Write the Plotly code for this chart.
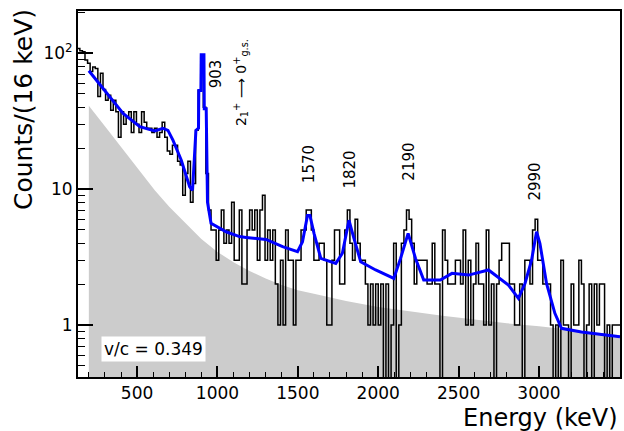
import numpy as np
import plotly.graph_objects as go

# ---------------- data ----------------
bin_width = 16
first_edge = 128
counts = [
    108, 104, 102, 89, 84, 73, 79, 77, 48, 71,
    54, 45, 49, 38, 45, 37, 24, 37, 30, 34,
    37, 26, 37, 30, 26, 37, 31, 28, 28, 26,
    28, 24, 26, 31, 24, 19, 18, 21, 21, 16,
    15, 9, 13, 16, 8, 11, 27, 53, 97, 40,
    13, 7, 5, 5, 3, 5, 7, 4, 5, 4,
    8, 3, 3, 7, 2, 2, 5, 7, 5, 7,
    3, 7, 9, 3, 5, 3, 5, 2, 1, 3,
    1, 5, 3, 3, 1, 3, 3, 5, 5, 7,
    7, 5, 3, 3, 4, 4, 3, 1, 1, 3,
    5, 5, 2, 2, 5, 7, 4, 3, 6, 4,
    3, 3, 2, 1, 2, 1, 2, 1, 2, 0,
    2, 0, 1, 4, 0, 1, 4, 5, 7, 6,
    4, 2, 3, 3, 3, 3, 2, 2, 4, 2,
    2, 0, 5, 3, 2, 2, 2, 3, 3, 2,
    5, 1, 3, 1, 2, 4, 2, 2, 1, 5,
    1, 2, 0, 2, 3, 4, 4, 4, 2, 2,
    1, 1, 2, 0, 3, 3, 2, 5, 6, 3,
    3, 2, 2, 2, 1, 0, 1, 0, 3, 1,
    1, 0, 2, 1, 1, 3, 2, 0, 1, 2,
    0, 2, 1, 2, 2, 0, 1, 0, 1, 1,
    1,
]

fit_E = [200, 331, 413, 517, 610, 661, 692, 723, 775, 827, 845, 866, 882, 884,
         897, 899, 916, 918, 930, 938, 960, 1054, 1137, 1178, 1302, 1405, 1498,
         1529, 1560, 1575, 1601, 1643, 1736, 1777, 1818, 1849, 1891, 1984, 2097,
         2139, 2186, 2232, 2283, 2386, 2459, 2562, 2686, 2810, 2872, 2913, 2954,
         2985, 3006, 3047, 3099, 3140, 3264, 3504]
fit_y = [74, 47.7, 36, 28.7, 26.7, 27.9, 27, 22.9, 16.3, 10.4, 9.8, 27, 28, 53,
         53, 97, 97, 39, 39, 8, 5.6, 4.85, 4.47, 4.41, 4.26, 3.77, 3.46,
         4.1, 6.4, 6.4, 4.7, 3.09, 2.84, 3.37, 5.9, 4.34, 2.92, 2.54, 2.2,
         3.09, 4.72, 3.09, 2.14, 2.14, 2.4, 2.33, 2.54, 1.97, 1.57, 2.02, 3.0,
         4.85, 3.98, 2.02, 1.22, 0.946, 0.89, 0.82]

bg_E = [200, 300, 400, 500, 610, 700, 800, 900, 1000, 1100, 1200, 1300, 1400,
        1500, 1600, 1800, 2000, 2200, 2400, 2600, 2800, 3000, 3200, 3400, 3504]
bg_y = [41, 29, 20.5, 14.3, 9.8, 7.4, 5.6, 4.3, 3.45, 2.9, 2.5, 2.2, 1.97,
        1.8, 1.7, 1.5, 1.36, 1.26, 1.17, 1.10, 1.03, 0.98, 0.92, 0.87, 0.84]

peak_E = [903, 1570, 1820, 2190, 2990]
peak_text = ["903", "1570", "1820", "2190", "2990"]
peak_label_base = [53.5, 10.7, 9.8, 11.1, 8.0]
peak_xshift = [15, 0, 1, 0, -2]

x_tick_vals = [500, 1000, 1500, 2000, 2500, 3000]
y_tick_vals = [1, 10, 100]
y_tick_text = ["1", "10", "10<sup>2</sup>"]

# ---------------- build ----------------
FLOOR = 1e-3
edges = [first_edge + bin_width * i for i in range(len(counts) + 1)]
hist_y = [c if c > 0 else FLOOR for c in counts]
hist_y = hist_y + [hist_y[-1]]

fig = go.Figure()
fig.add_trace(go.Scatter(
    x=[bg_E[0]] + bg_E + [bg_E[-1]],
    y=[FLOOR] + bg_y + [FLOOR],
    fill="toself", fillcolor="#cccccc", mode="lines",
    line=dict(width=0, color="#cccccc"), hoverinfo="skip"))
fig.add_trace(go.Scatter(
    x=edges, y=hist_y, mode="lines",
    line=dict(color="black", width=1.5, shape="hv")))
fig.add_trace(go.Scatter(
    x=fit_E, y=fit_y, mode="lines",
    line=dict(color="#0000ff", width=3)))

font_family = "DejaVu Sans"
annotations = []
for e, t, b, s in zip(peak_E, peak_text, peak_label_base, peak_xshift):
    annotations.append(dict(x=e, y=np.log10(b), xref="x", yref="y", text=t,
                            showarrow=False, textangle=-90, xanchor="center",
                            yanchor="bottom", xshift=s,
                            font=dict(size=15, color="black", family=font_family)))
annotations.append(dict(x=903, y=np.log10(61), xref="x", yref="y",
                        text="2<sub>1</sub><sup>+</sup> \u27f6 0<sup>+</sup><sub>g.s.</sub>",
                        showarrow=False, textangle=-90, xanchor="center",
                        yanchor="middle", xshift=39,
                        font=dict(size=14, color="black", family=font_family)))
annotations.append(dict(x=0.1397, y=0.0765, xref="paper", yref="paper",
                        text="v/c = 0.349", showarrow=False, bgcolor="white",
                        borderpad=2, xanchor="center", yanchor="middle",
                        font=dict(size=17, color="black", family=font_family)))
annotations.append(dict(x=1.0, y=-0.112, xref="paper", yref="paper",
                        text="Energy (keV)", showarrow=False, xanchor="right",
                        yanchor="middle",
                        font=dict(size=24, color="black", family=font_family)))
annotations.append(dict(x=-0.0993, y=1.01, xref="paper", yref="paper",
                        text="Counts/(16 keV)", showarrow=False, textangle=-90,
                        xanchor="center", yanchor="top",
                        font=dict(size=25, color="black", family=font_family)))

x_minor = [v for v in range(200, 3500, 100) if v not in x_tick_vals]
y_minor = [0.5, 0.6, 0.7, 0.8, 0.9] + list(range(2, 10)) + list(range(20, 100, 10)) + [200]

fig.update_layout(
    width=624, height=431,
    margin=dict(l=78, r=2, t=11, b=54),
    paper_bgcolor="white", plot_bgcolor="white",
    showlegend=False,
    font=dict(family=font_family, color="black", size=17),
    annotations=annotations,
    xaxis=dict(range=[132.5, 3504], tickvals=x_tick_vals, ticks="inside",
               ticklen=11, tickwidth=1.5, tickcolor="black",
               showline=True, linecolor="black", linewidth=2, mirror=True,
               showgrid=False, zeroline=False, tickfont=dict(size=17),
               minor=dict(tickvals=x_minor, ticks="inside", ticklen=5,
                          tickwidth=1.2, tickcolor="black", showgrid=False)),
    yaxis=dict(type="log", range=[-0.382, 2.309], tickvals=y_tick_vals,
               ticktext=y_tick_text, ticks="inside", ticklen=15, tickwidth=1.5,
               tickcolor="black", showline=True, linecolor="black", linewidth=2,
               mirror=True, showgrid=False, zeroline=False,
               tickfont=dict(size=17),
               minor=dict(tickvals=y_minor, ticks="inside", ticklen=7,
                          tickwidth=1.2, tickcolor="black", showgrid=False)),
)

fig.write_html(
    "out.html",
    config={"displayModeBar": False},
    post_script="document.body.style.margin='0px';document.body.style.overflow='hidden';",
)
